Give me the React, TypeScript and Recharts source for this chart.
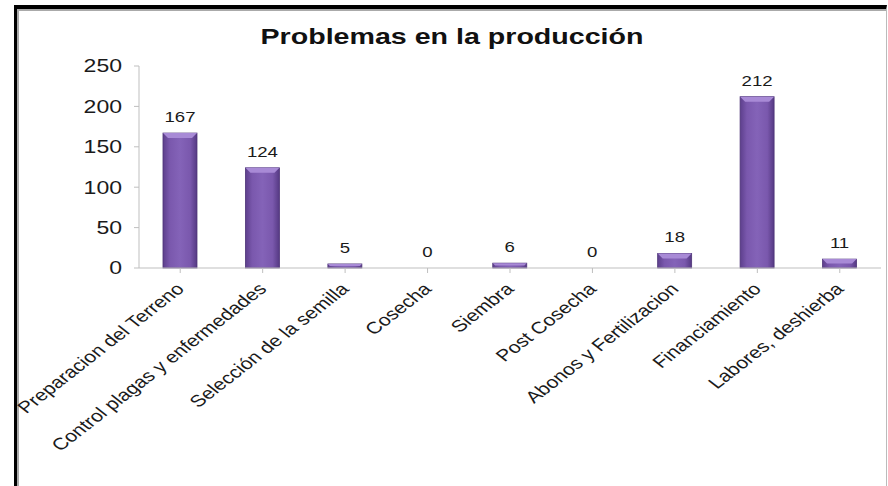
import React from "react";
import { BarChart, Bar, XAxis, YAxis, LabelList } from "recharts";

const categories = [
  "Preparacion del Terreno",
  "Control plagas y enfermedades",
  "Selección de la semilla",
  "Cosecha",
  "Siembra",
  "Post Cosecha",
  "Abonos y Fertilizacion",
  "Financiamiento",
  "Labores, deshierba",
];
const counts = [167, 124, 5, 0, 6, 0, 18, 212, 11];
const yTicks = [0, 50, 100, 150, 200, 250];

const data = categories.map((name, i) => ({ name, value: counts[i] }));

const FONT = "Arial, 'Liberation Sans', Helvetica, sans-serif";
// the reference looks stretched sideways, so text gets a horizontal scale
const SX = 1.28;

function BevelBar(props: any) {
  const { x, y, width, height } = props;
  if (!height || height <= 0) return null;
  const bevel = Math.min(5, height / 2);
  return (
    <g>
      <rect x={x} y={y} width={width} height={height} fill="url(#barBody)" stroke="#4e3478" strokeWidth={0.8} />
      <polygon
        points={`${x},${y} ${x + width},${y} ${x + width - bevel},${y + bevel} ${x + bevel},${y + bevel}`}
        fill="#a88ad6"
      />
    </g>
  );
}

function CatTick(props: any) {
  const { x, y, payload } = props;
  return (
    <g transform={`translate(${x + 5},${y + 15}) scale(${SX},1) rotate(-45)`}>
      <text x={0} y={0} textAnchor="end" fontFamily={FONT} fontSize={16.5} fill="#1a1a1a">
        {payload.value}
      </text>
    </g>
  );
}

function ValTick(props: any) {
  const { x, y, payload } = props;
  return (
    <g transform={`translate(${x},${y}) scale(${SX},1)`}>
      <text x={0} y={0} dy="0.36em" textAnchor="end" fontFamily={FONT} fontSize={18} fill="#1a1a1a">
        {payload.value}
      </text>
    </g>
  );
}

function BarLabel(props: any) {
  const { x, y, width, value } = props;
  return (
    <g transform={`translate(${x + width / 2},${y - 11}) scale(${SX * 0.97},1)`}>
      <text x={0} y={0} textAnchor="middle" fontFamily={FONT} fontSize={15} fill="#1a1a1a">
        {value}
      </text>
    </g>
  );
}

export default function App() {
  return (
    <div style={{ position: "absolute", left: 0, top: 0, width: 888, height: 486, background: "#fff" }}>
      <div
        style={{
          position: "absolute",
          left: 14,
          top: 5,
          width: 888 - 14 - 1,
          height: 486 - 5,
          borderLeft: "3px solid #000",
          borderTop: "4px solid #000",
          borderRight: "1px solid #bbb",
          boxShadow: "inset 2px 2px 0 #aaa",
          boxSizing: "border-box",
        }}
      />
      <div
        style={{
          position: "absolute",
          left: 452,
          top: 24,
          transform: `translateX(-50%) scaleX(1.3)`,
          whiteSpace: "nowrap",
          fontFamily: FONT,
          fontWeight: "bold",
          fontSize: 22,
          color: "#111",
        }}
      >
        Problemas en la producción
      </div>
      <div style={{ position: "absolute", left: 0, top: 0 }}>
        <BarChart
          width={888}
          height={486}
          data={data}
          margin={{ top: 66, right: 7, bottom: 0, left: 0 }}
          barCategoryGap="20%"
        >
          <defs>
            <linearGradient id="barBody" x1="0" y1="0" x2="1" y2="0">
              <stop offset="0%" stopColor="#5d3f8c" />
              <stop offset="20%" stopColor="#7a58ad" />
              <stop offset="50%" stopColor="#8463b8" />
              <stop offset="80%" stopColor="#7a58ad" />
              <stop offset="100%" stopColor="#553983" />
            </linearGradient>
          </defs>
          <XAxis
            dataKey="name"
            interval={0}
            height={218}
            stroke="#bfbfbf"
            tickSize={5}
            tick={<CatTick />}
          />
          <YAxis
            domain={[0, 250]}
            ticks={yTicks}
            width={139}
            stroke="#bfbfbf"
            tickSize={5}
            tickMargin={12}
            tick={<ValTick />}
          />
          <Bar dataKey="value" maxBarSize={34} shape={<BevelBar />} isAnimationActive={false}>
            <LabelList dataKey="value" content={<BarLabel />} />
          </Bar>
        </BarChart>
      </div>
    </div>
  );
}
